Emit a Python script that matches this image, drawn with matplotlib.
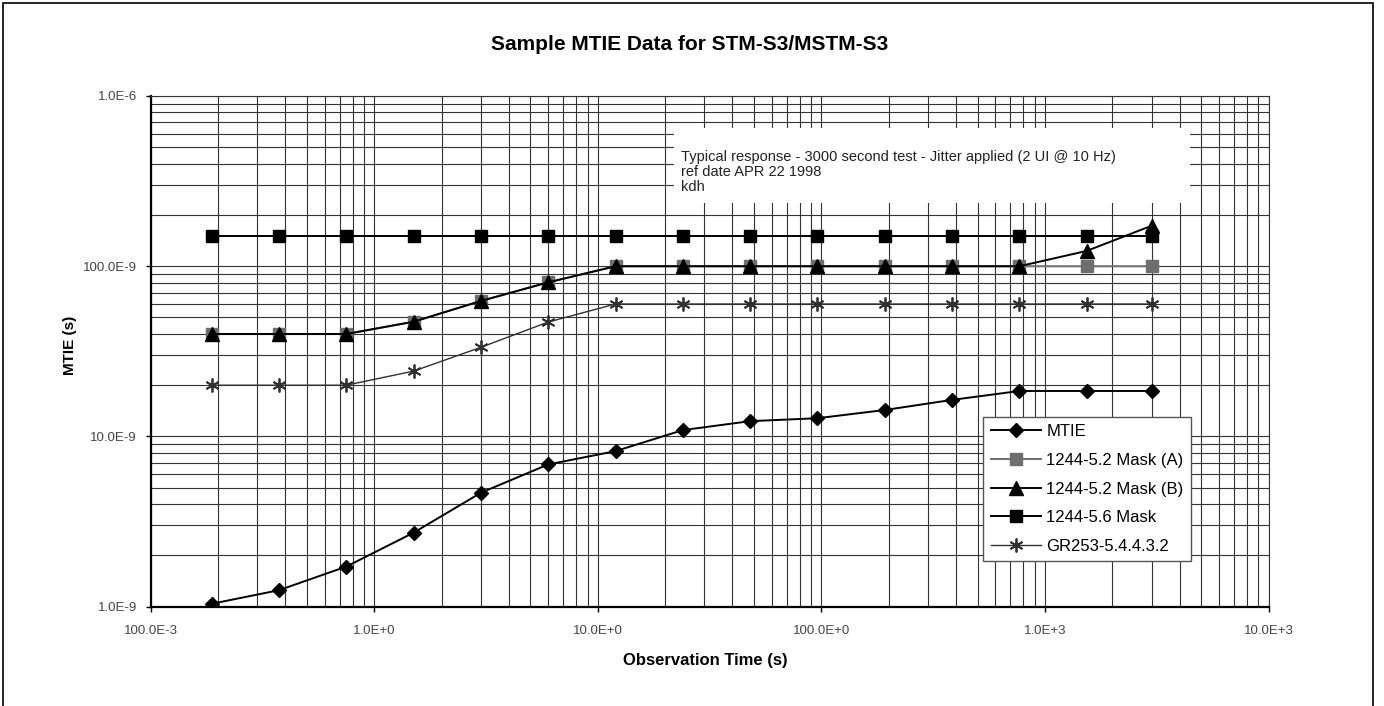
import matplotlib
matplotlib.use("Agg")
import matplotlib.pyplot as plt
from matplotlib.ticker import FixedLocator, LogLocator, NullFormatter
from matplotlib.patches import Rectangle

plt.rcParams['font.family'] = ['Liberation Sans', 'DejaVu Sans']

# ---- data ----
tau = [0.1875, 0.375, 0.75, 1.5, 3, 6, 12, 24, 48, 96, 192, 384, 768, 1536, 3000]
mtie_ns = [1.04, 1.25, 1.72, 2.72, 4.67, 6.85, 8.2, 10.9, 12.3, 12.8, 14.3, 16.4, 18.5, 18.5, 18.5]
mask_a_ns = [40, 40, 40, 47.2, 62.5, 80.4, 100, 100, 100, 100, 100, 100, 100, 100, 100]
mask_b_ns = [40, 40, 40, 47.2, 62.5, 80.4, 100, 100, 100, 100, 100, 100, 100, 123, 173]
mask56_ns = [150, 150, 150, 150, 150, 150, 150, 150, 150, 150, 150, 150, 150, 150, 150]
gr253_ns = [20, 20, 20, 24.2, 33.4, 47, 60, 60, 60, 60, 60, 60, 60, 60, 60]

x_ticks = [0.1, 1, 10, 100, 1000, 10000]
x_tick_labels = ["100.0E-3", "1.0E+0", "10.0E+0", "100.0E+0", "1.0E+3", "10.0E+3"]
y_ticks = [1e-9, 1e-8, 1e-7, 1e-6]
y_tick_labels = ["1.0E-9", "10.0E-9", "100.0E-9", "1.0E-6"]

series_labels = ["MTIE", "1244-5.2 Mask (A)", "1244-5.2 Mask (B)", "1244-5.6 Mask", "GR253-5.4.4.3.2"]
note_lines = ["Typical response - 3000 second test - Jitter applied (2 UI @ 10 Hz)",
              "ref date APR 22 1998",
              "kdh"]

# ---- figure ----
W, H = 1384, 706
fig = plt.figure(figsize=(W / 100, H / 100), dpi=100)
fig.patch.set_facecolor('white')
fig.patches.append(Rectangle((3 / W, -0.05), (1373 - 3) / W, 1.05 - 3 / H,
                             transform=fig.transFigure, fill=False,
                             edgecolor='black', linewidth=1.2))

ax = fig.add_axes([150.6 / W, 1 - 606.7 / H, (1268.6 - 150.6) / W, (606.7 - 96) / H])
ax.set_xscale('log')
ax.set_yscale('log')
ax.set_xlim(0.1, 10000)
ax.set_ylim(1e-9, 1e-6)

grid_kw = dict(color='#333333', linewidth=0.8)
ax.grid(True, which='major', **grid_kw)
ax.grid(True, which='minor', **grid_kw)
ax.set_axisbelow(True)

ax.xaxis.set_major_locator(FixedLocator(x_ticks))
ax.xaxis.set_minor_locator(LogLocator(base=10, subs=range(2, 10), numticks=20))
ax.yaxis.set_major_locator(FixedLocator(y_ticks))
ax.yaxis.set_minor_locator(LogLocator(base=10, subs=range(2, 10), numticks=20))
ax.set_xticklabels(x_tick_labels)
ax.set_yticklabels(y_tick_labels)
ax.xaxis.set_minor_formatter(NullFormatter())
ax.yaxis.set_minor_formatter(NullFormatter())
ax.tick_params(which='major', direction='out', length=3.5, width=1, color='black',
               labelsize=9.5, labelcolor='#454545')
ax.tick_params(axis='x', which='major', pad=10)
ax.tick_params(axis='y', which='major', pad=6.5)
ax.tick_params(which='minor', length=0)
for s in ['left', 'bottom']:
    ax.spines[s].set_linewidth(1.6)
for s in ['top', 'right']:
    ax.spines[s].set_linewidth(0.8)
    ax.spines[s].set_color('#333333')

ns = 1e-9
ax.plot(tau, [v * ns for v in mtie_ns], color='black', lw=1.4, marker='D', ms=7.5,
        mfc='black', mec='black', label=series_labels[0], zorder=5)
ax.plot(tau, [v * ns for v in mask_a_ns], color='#6e6e6e', lw=1.4, marker='s', ms=8,
        mfc='#6e6e6e', mec='#6e6e6e', label=series_labels[1], zorder=4)
ax.plot(tau, [v * ns for v in mask_b_ns], color='black', lw=1.4, marker='^', ms=10,
        mfc='black', mec='black', label=series_labels[2], zorder=5)
ax.plot(tau, [v * ns for v in mask56_ns], color='black', lw=1.4, marker='s', ms=8,
        mfc='black', mec='black', label=series_labels[3], zorder=5)
ax.plot(tau, [v * ns for v in gr253_ns], color='#303030', lw=1.0, marker=(6, 2, 0), ms=10,
        mew=1.3, mec='#303030', label=series_labels[4], zorder=5)

# note box
ax.add_patch(Rectangle((0.468, 0.79), 0.93 - 0.468, 0.937 - 0.79, transform=ax.transAxes,
                       facecolor='white', edgecolor='none', zorder=3))
for i, line in enumerate(note_lines):
    ax.text(0.474, 0.880 - i * 0.0295, line, transform=ax.transAxes, ha='left', va='center',
            fontsize=10.5, color='#222222', zorder=6)

leg = ax.legend(loc='upper left', bbox_to_anchor=(983 / W, 1 - 416.7 / H),
                bbox_transform=fig.transFigure, borderaxespad=0, frameon=True,
                fancybox=False, edgecolor='#555555', framealpha=1, fontsize=12,
                handlelength=3.0, handletextpad=0.35, labelspacing=0.82, borderpad=0.45)
leg.get_frame().set_linewidth(1.0)
leg.set_zorder(10)

fig.text(690 / W, 1 - 45 / H, "Sample MTIE Data for STM-S3/MSTM-S3", ha='center', va='center',
         fontsize=15, fontweight='bold')
fig.text(705 / W, 1 - 660 / H, "Observation Time (s)", ha='center', va='center',
         fontsize=12, fontweight='bold')
fig.text(70 / W, 1 - 345 / H, "MTIE (s)", ha='center', va='center', rotation=90,
         fontsize=11, fontweight='bold')

fig.savefig("out.png", dpi=100)
